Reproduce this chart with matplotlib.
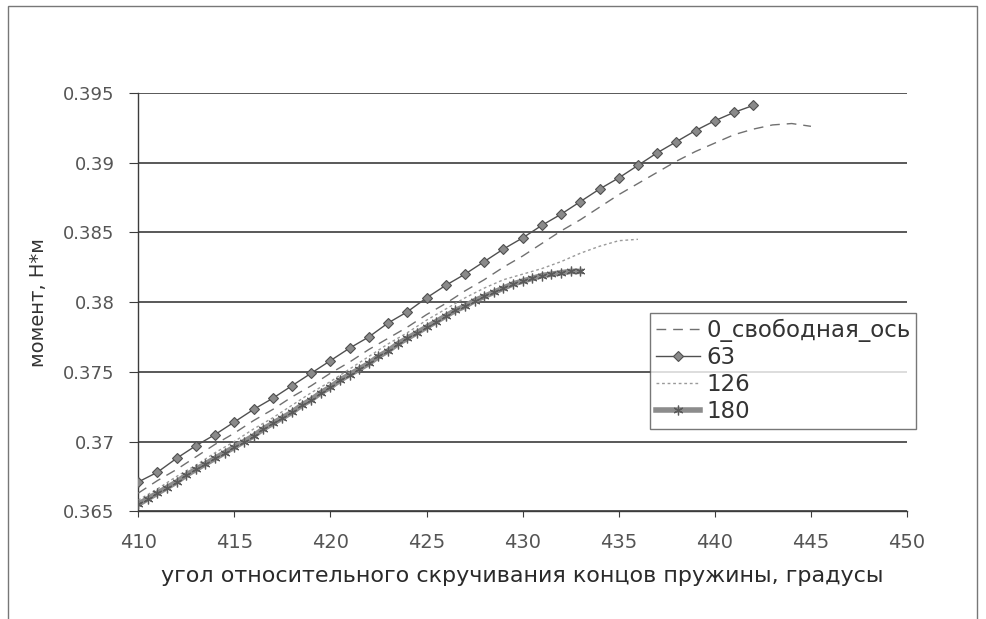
import numpy as np
import matplotlib.pyplot as plt
from matplotlib.patches import Rectangle

plt.rcParams['font.family'] = ['DejaVu Sans']

# угол, градусы
x_63 = list(range(410, 443))
y_63 = [0.3671, 0.3678, 0.3688, 0.3697, 0.3705, 0.3714, 0.3723, 0.3731, 0.3740,
        0.3749, 0.3758, 0.3767, 0.3775, 0.3785, 0.3793, 0.3803, 0.3812, 0.3820,
        0.3829, 0.3838, 0.3846, 0.3855, 0.3863, 0.3872, 0.3881, 0.3889, 0.3898,
        0.3907, 0.3915, 0.3923, 0.3930, 0.3936, 0.3941]

x_free = list(range(410, 446))
y_free = [0.3663, 0.3672, 0.3680, 0.3689, 0.3698, 0.3706, 0.3715, 0.3723, 0.3732,
          0.3740, 0.3749, 0.3757, 0.3766, 0.3774, 0.3782, 0.3791, 0.3799, 0.3808,
          0.3816, 0.3825, 0.3833, 0.3842, 0.3851, 0.3859, 0.3868, 0.3877, 0.3885,
          0.3893, 0.3901, 0.3908, 0.3914, 0.3920, 0.3924, 0.3927, 0.3928, 0.3926]

x_126 = list(range(410, 437))
y_126 = [0.3658, 0.3666, 0.3675, 0.3683, 0.3692, 0.3700, 0.3709, 0.3717, 0.3726,
         0.3735, 0.3743, 0.3752, 0.3761, 0.3770, 0.3778, 0.3787, 0.3795, 0.3803,
         0.3810, 0.3816, 0.3820, 0.3824, 0.3829, 0.3835, 0.3840, 0.3844, 0.3845]

x_180 = [410, 410.5, 411, 411.5, 412, 412.5, 413, 413.5, 414, 414.5, 415, 415.5,
         416, 416.5, 417, 417.5, 418, 418.5, 419, 419.5, 420, 420.5, 421, 421.5,
         422, 422.5, 423, 423.5, 424, 424.5, 425, 425.5, 426, 426.5, 427, 427.5,
         428, 428.5, 429, 429.5, 430, 430.5, 431, 431.5, 432, 432.5, 433]
y_180 = [0.3655, 0.3659, 0.3663, 0.3667, 0.3671, 0.3676, 0.3680, 0.3684, 0.3688,
         0.3692, 0.3696, 0.3700, 0.3704, 0.3709, 0.3713, 0.3717, 0.3721, 0.3726,
         0.3730, 0.3735, 0.3739, 0.3744, 0.3748, 0.3752, 0.3756, 0.3761, 0.3765,
         0.3770, 0.3774, 0.3778, 0.3782, 0.3786, 0.3790, 0.3794, 0.3797, 0.3801,
         0.3804, 0.3807, 0.3810, 0.3813, 0.3815, 0.3817, 0.3819, 0.3820, 0.3821,
         0.3822, 0.3822]

fig = plt.figure(figsize=(9.87, 6.19), dpi=100)
ax = fig.add_axes([0.140, 0.174, 0.779, 0.676])

ax.plot(x_free, y_free, color='#707070', lw=1.0, dashes=(7, 5),
        label='0_свободная_ось', zorder=3)
ax.plot(x_63, y_63, color='#505050', lw=1.0, marker='D', ms=5,
        mfc='#8a8a8a', mec='#505050', mew=0.8, label='63', zorder=5)
ax.plot(x_126, y_126, color='#9a9a9a', lw=1.0, dashes=(2, 2),
        label='126', zorder=3)
ax.plot(x_180, y_180, color='#8c8c8c', lw=4.0, marker=(6, 2, 0), ms=7,
        mec='#5a5a5a', mew=0.9, label='180', zorder=4)

ax.set_xlim(410, 450)
ax.set_ylim(0.365, 0.395)
ax.set_xticks(np.arange(410, 451, 5))
ax.set_yticks([0.365, 0.37, 0.375, 0.38, 0.385, 0.39, 0.395])
ax.set_yticklabels(['0.365', '0.37', '0.375', '0.38', '0.385', '0.39', '0.395'])

ax.grid(axis='y', color='#3c3c3c', lw=1.2)
ax.set_axisbelow(True)
for s in ['top', 'right']:
    ax.spines[s].set_visible(False)
for s in ['left', 'bottom']:
    ax.spines[s].set_color('#3c3c3c')
    ax.spines[s].set_linewidth(1.0)

ax.tick_params(axis='y', direction='out', length=6.5, color='#3c3c3c',
               labelsize=13, labelcolor='#555555', pad=10.5)
ax.tick_params(axis='x', direction='out', length=4.5, color='#3c3c3c',
               labelsize=14, labelcolor='#555555', pad=11)

ax.set_xlabel('угол относительного скручивания концов пружины, градусы',
              fontsize=16, color='#2a2a2a', labelpad=10)
ax.set_ylabel('момент, Н*м', fontsize=14, color='#333333', labelpad=11)

leg = ax.legend(loc='upper left', bbox_to_anchor=(0.666, 0.474), fontsize=16.5,
                frameon=True, fancybox=False, edgecolor='#555555',
                handlelength=1.9, borderpad=0.25, labelspacing=0.18,
                handletextpad=0.3, borderaxespad=0)
leg.get_frame().set_linewidth(1.0)
for t in leg.get_texts():
    t.set_color('#333333')

# рамка области диаграммы
fig.patches.append(Rectangle((8 / 987, -0.1), 969 / 987, 1.1 - 6 / 619,
                             transform=fig.transFigure, fill=False,
                             edgecolor='#777777', lw=1.0))

fig.savefig('out.png', dpi=100)
